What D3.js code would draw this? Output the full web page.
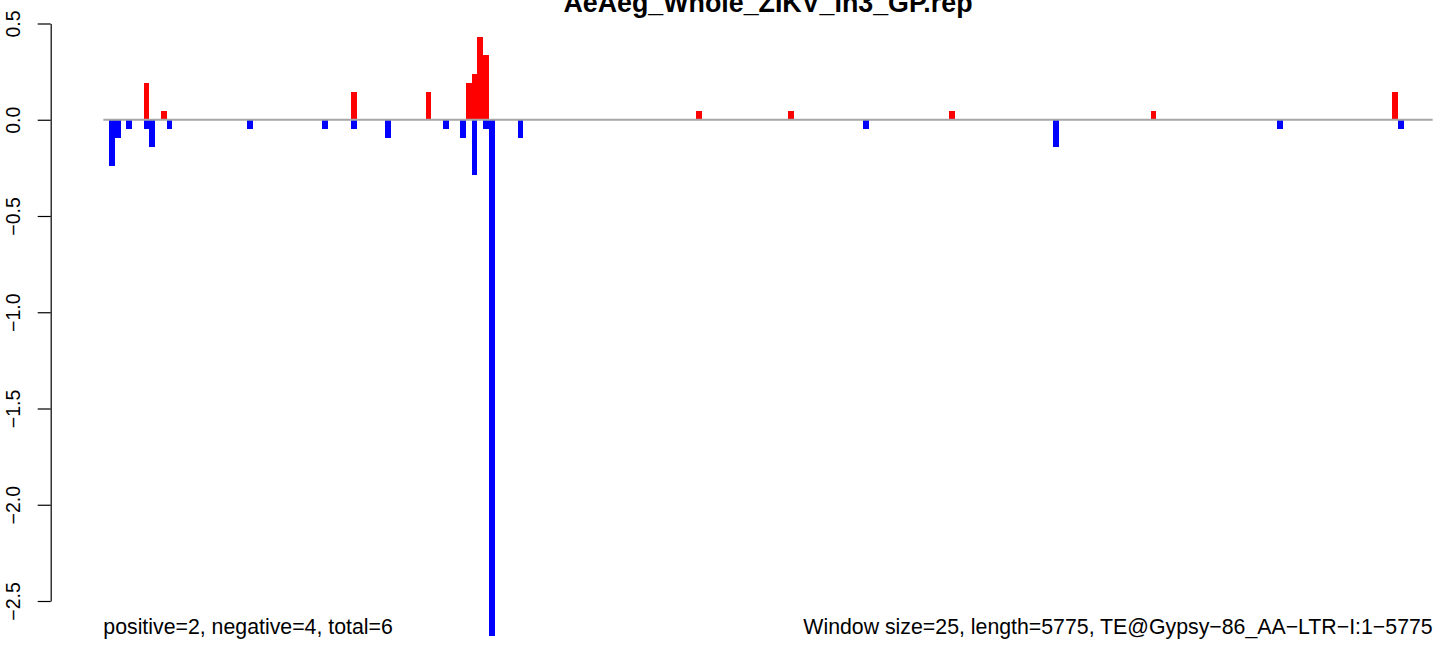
<!DOCTYPE html>
<html>
<head>
<meta charset="utf-8">
<script src="https://cdn.jsdelivr.net/npm/d3@7"></script>
<style>
  html, body { margin: 0; padding: 0; background: #fff; }
  svg { display: block; }
  text { font-family: "Liberation Sans", Arial, Helvetica, sans-serif; }
</style>
</head>
<body>
<svg id="chart" width="1444" height="646"></svg>
<script>
// ---- data ----
const title = "AeAeg_Whole_ZIKV_In3_GP.rep";
const windowSize = 25;
const seqLength = 5775;
const leftNote = "positive=2, negative=4, total=6";
const rightNote = "Window size=25, length=5775, TE@Gypsy\u221286_AA\u2212LTR\u2212I:1\u22125775";
const yTicks = [0.5, 0.0, -0.5, -1.0, -1.5, -2.0, -2.5];

// positive (red) windows: window index and value
const posIndex = [7, 10, 43, 56, 63, 64, 65, 66, 103, 119, 147, 182, 224];
const posValue = [0.191, 0.048, 0.143, 0.143, 0.191, 0.239, 0.43, 0.335, 0.048, 0.048, 0.048, 0.048, 0.143];
// negative (blue) windows
const negIndex = [1, 2, 4, 7, 8, 11, 25, 38, 43, 49, 59, 62, 64, 66, 67, 72, 132, 165, 204, 225];
const negValue = [-0.239, -0.096, -0.048, -0.048, -0.143, -0.048, -0.048, -0.048, -0.048, -0.096, -0.048, -0.096, -0.287, -0.048, -2.68, -0.096, -0.048, -0.143, -0.048, -0.048];

// ---- scales ----
const svg = d3.select("#chart");
const x = d3.scaleLinear().domain([0, seqLength]).range([103.3, 1432.7]);
const y = d3.scaleLinear().domain([-2.5, 0.5]).range([601, 23.5]);

const fmt = v => (v < 0 ? "\u2212" : "") + Math.abs(v).toFixed(1);

// ---- bars ----
function drawBars(idx, vals, color) {
  const data = idx.map((d, i) => ({ i: d, v: vals[i] }));
  svg.append("g").selectAll("rect").data(data).join("rect")
    .attr("x", d => x(d.i * windowSize))
    .attr("width", d => x((d.i + 1) * windowSize) - x(d.i * windowSize))
    .attr("y", d => Math.min(y(d.v), y(0)))
    .attr("height", d => Math.abs(y(d.v) - y(0)))
    .attr("fill", color)
    .attr("shape-rendering", "crispEdges");
}
drawBars(posIndex, posValue, "#ff0000");
drawBars(negIndex, negValue, "#0000ff");

// ---- zero line ----
svg.append("line")
  .attr("x1", x(0)).attr("x2", x(seqLength))
  .attr("y1", y(0)).attr("y2", y(0))
  .attr("stroke", "#a6a6a6").attr("stroke-width", 2);

// ---- y axis ----
const axis = d3.axisLeft(y).tickValues(yTicks).tickSize(13).tickSizeOuter(0).tickFormat(fmt);
const gy = svg.append("g").attr("transform", "translate(50.7,0)").call(axis);
gy.select(".domain").attr("stroke", "#000").attr("stroke-width", 1.2);
gy.selectAll(".tick line").attr("stroke", "#000").attr("stroke-width", 1.2);
gy.selectAll(".tick text")
  .attr("font-family", "'Liberation Sans', Arial, sans-serif")
  .attr("font-size", 19.5)
  .attr("fill", "#000")
  .attr("text-anchor", "middle")
  .attr("dy", null)
  .attr("x", null)
  .attr("transform", "translate(-31,0) rotate(-90)");

// ---- title ----
svg.append("text")
  .attr("x", (x(0) + x(seqLength)) / 2).attr("y", 12)
  .attr("text-anchor", "middle")
  .attr("font-weight", "bold")
  .attr("font-size", 26.8)
  .text(title);

// ---- notes ----
svg.append("text")
  .attr("x", x(0)).attr("y", 634)
  .attr("font-size", 21.3)
  .text(leftNote);
svg.append("text")
  .attr("x", x(seqLength)).attr("y", 634)
  .attr("text-anchor", "end")
  .attr("font-size", 21.3)
  .text(rightNote);
</script>
</body>
</html>
